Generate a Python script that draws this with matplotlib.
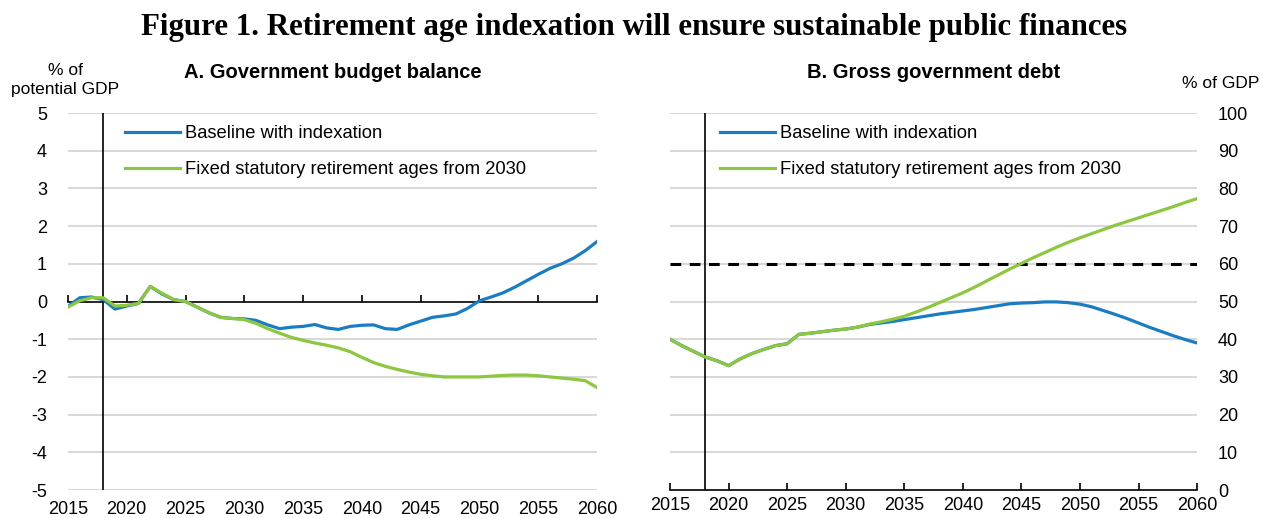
import matplotlib.pyplot as plt
from matplotlib import font_manager

# Fonte estreita parecida com Arial Narrow, se houver
names = {f.name for f in font_manager.fontManager.ttflist}
sans = 'Liberation Sans Narrow' if 'Liberation Sans Narrow' in names else 'Liberation Sans'
plt.rcParams['font.family'] = [sans, 'DejaVu Sans']
plt.rcParams['axes.unicode_minus'] = False

# Dados
years = list(range(2015, 2061))

balance_baseline = [
    -0.13, 0.10, 0.12, 0.05, -0.20, -0.12, -0.05, 0.40, 0.20, 0.05,
    0.00, -0.15, -0.30, -0.42, -0.45, -0.46, -0.50, -0.62, -0.72, -0.68,
    -0.66, -0.61, -0.70, -0.74, -0.66, -0.63, -0.62, -0.72, -0.74, -0.62,
    -0.52, -0.42, -0.38, -0.33, -0.18, 0.02, 0.12, 0.23, 0.38, 0.55,
    0.72, 0.88, 1.00, 1.15, 1.35, 1.59,
]
balance_fixed = [
    -0.15, 0.02, 0.10, 0.10, -0.12, -0.10, -0.05, 0.40, 0.22, 0.05,
    0.00, -0.15, -0.30, -0.42, -0.45, -0.48, -0.58, -0.72, -0.84, -0.95,
    -1.03, -1.10, -1.16, -1.23, -1.33, -1.48, -1.62, -1.72, -1.80, -1.87,
    -1.93, -1.97, -2.00, -2.00, -2.00, -2.00, -1.98, -1.96, -1.95, -1.95,
    -1.97, -2.00, -2.03, -2.06, -2.10, -2.28,
]
debt_baseline = [
    40.0, 38.3, 36.8, 35.3, 34.3, 33.0, 34.8, 36.2, 37.3, 38.3,
    38.8, 41.3, 41.6, 42.0, 42.4, 42.7, 43.2, 43.9, 44.3, 44.7,
    45.2, 45.7, 46.2, 46.7, 47.1, 47.5, 47.9, 48.4, 48.9, 49.4,
    49.6, 49.7, 49.9, 49.9, 49.7, 49.3, 48.6, 47.6, 46.6, 45.5,
    44.3, 43.1, 42.0, 40.9, 39.9, 39.0,
]
debt_fixed = [
    40.0, 38.3, 36.8, 35.3, 34.3, 33.0, 34.8, 36.2, 37.3, 38.3,
    38.8, 41.3, 41.6, 42.0, 42.4, 42.7, 43.2, 44.0, 44.6, 45.3,
    46.1, 47.2, 48.4, 49.7, 51.0, 52.3, 53.8, 55.4, 57.0, 58.6,
    60.1, 61.6, 63.0, 64.4, 65.7, 66.9, 68.0, 69.1, 70.2, 71.2,
    72.2, 73.2, 74.2, 75.2, 76.3, 77.3,
]

labels = ['Baseline with indexation', 'Fixed statutory retirement ages from 2030']
xticks = list(range(2015, 2061, 5))
blue = '#1a7dc4'
green = '#8dc63f'
grid = '#d9d9d9'
fs = 13

fig = plt.figure(figsize=(12.63, 5.18), dpi=100)
ax1 = fig.add_axes([0.0538, 0.054, 0.4189, 0.7278])
ax2 = fig.add_axes([0.5305, 0.054, 0.4173, 0.7278])

for ax in (ax1, ax2):
    ax.set_xlim(2015, 2060)
    ax.set_xticks(xticks)
    for s in ax.spines.values():
        s.set_visible(False)
    ax.axvline(2018, color='black', lw=1.2, zorder=3)
    ax.tick_params(axis='y', length=0, labelsize=fs)
    ax.tick_params(axis='x', labelsize=fs)

# Painel A
ax1.set_ylim(-5, 5)
ax1.set_yticks(range(-5, 6))
ax1.tick_params(axis='y', pad=15)
for v in range(-5, 6):
    if v != 0:
        ax1.axhline(v, color=grid, lw=1.5, zorder=0)
ax1.spines['top'].set_visible(True)
ax1.spines['top'].set_position(('data', 0))
ax1.spines['top'].set_linewidth(1.2)
ax1.tick_params(axis='x', bottom=False, top=True, labelbottom=True, labeltop=False,
                direction='out', length=5, width=1.2, pad=3)
ax1.plot(years, balance_baseline, color=blue, lw=2.3, label=labels[0], zorder=4)
ax1.plot(years, balance_fixed, color=green, lw=2.3, label=labels[1], zorder=5)
ax1.legend(loc='upper left', bbox_to_anchor=(0.108, 0.968), frameon=False, fontsize=13.2,
           borderpad=0, borderaxespad=0, handlelength=3.0, handletextpad=0.27, labelspacing=1.03)
ax1.set_title('A. Government budget balance', fontsize=14.5, fontweight='bold', pad=25)

# Painel B
ax2.set_ylim(0, 100)
ax2.set_yticks(range(0, 101, 10))
ax2.yaxis.tick_right()
ax2.tick_params(axis='y', pad=15)
for v in range(10, 101, 10):
    ax2.axhline(v, color=grid, lw=1.5, zorder=0)
ax2.spines['bottom'].set_visible(True)
ax2.spines['bottom'].set_linewidth(1.2)
ax2.tick_params(axis='x', direction='in', length=5, width=1.2, pad=5)
ax2.axhline(60, color='black', lw=2.2, dashes=(3.5, 2.8), zorder=2)
ax2.plot(years, debt_baseline, color=blue, lw=2.3, label=labels[0], zorder=4)
ax2.plot(years, debt_fixed, color=green, lw=2.3, label=labels[1], zorder=5)
ax2.legend(loc='upper left', bbox_to_anchor=(0.095, 0.968), frameon=False, fontsize=13.2,
           borderpad=0, borderaxespad=0, handlelength=3.0, handletextpad=0.27, labelspacing=1.03)
ax2.set_title('B. Gross government debt', fontsize=14.5, fontweight='bold', pad=25)

fig.text(0.0515, 0.845, '% of\npotential GDP', ha='center', va='center', fontsize=12.5, linespacing=1.35)
fig.text(0.9665, 0.838, '% of GDP', ha='center', va='center', fontsize=12.5)
fig.suptitle('Figure 1. Retirement age indexation will ensure sustainable public finances',
             x=0.502, y=0.975, fontsize=22.2, fontweight='bold', family='Liberation Serif')

fig.savefig('out.png', dpi=100)
